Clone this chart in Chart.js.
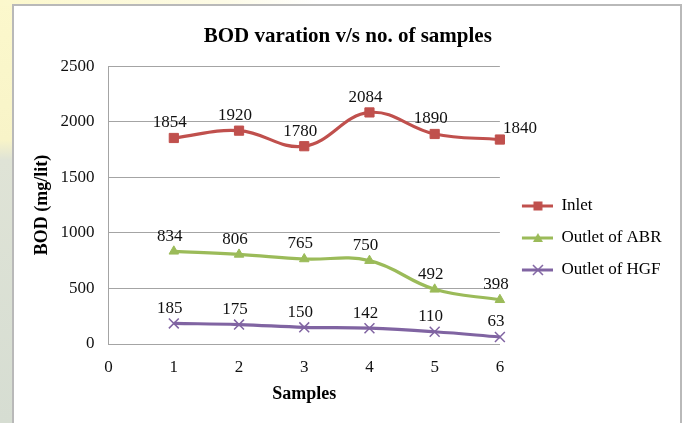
<!DOCTYPE html>
<html>
<head>
<meta charset="utf-8">
<script src="https://cdn.jsdelivr.net/npm/chart.js@4"></script>
<style>
  body { margin: 0; background: #fff; }
  #wrap { position: relative; width: 684px; height: 423px; overflow: hidden; background: #fff; }
  #side { position: absolute; left: 0; top: 0; width: 14px; height: 423px;
          background: linear-gradient(to bottom, #fcf8cc 0px, #f8f4c8 140px, #dfe3d6 160px, #d6ddd2 423px); }
  #topband { position: absolute; left: 0; top: 0; width: 320px; height: 6px;
             background: linear-gradient(to right, #fcf8cc, #fdfbe6 70%, #fff); }
  #box { position: absolute; left: 12px; top: 4px; width: 666px; height: 440px;
         border: 2px solid #b9b9b9; background: #fff; }
  canvas { position: absolute; left: 0; top: 0; }
</style>
</head>
<body>
<div id="wrap">
  <div id="side"></div>
  <div id="topband"></div>
  <div id="box"></div>
  <canvas id="Chart" width="684" height="423"></canvas>
</div>
<script>
// chart values
const samples = [1, 2, 3, 4, 5, 6];
const inlet = [1854, 1920, 1780, 2084, 1890, 1840];
const outletABR = [834, 806, 765, 750, 492, 398];
const outletHGF = [185, 175, 150, 142, 110, 63];
const seriesNames = ['Inlet', 'Outlet of ABR', 'Outlet of HGF'];

const serif = '"Liberation Serif", "Times New Roman", serif';
const colors = ['#C0504D', '#9BBB59', '#8064A2'];
const markers = ['rect', 'triangle', 'crossRot'];

Chart.defaults.font.family = serif;
Chart.defaults.color = '#111';

function toPoints(values) {
    return samples.map((s, i) => ({ x: s, y: values[i] }));
}

// small line + marker picture for the legend
function legendIcon(color, style) {
    const c = document.createElement('canvas');
    c.width = 38; c.height = 16;
    const g = c.getContext('2d');
    g.strokeStyle = color;
    g.fillStyle = color;
    g.lineWidth = 3;
    g.beginPath(); g.moveTo(7, 8); g.lineTo(38, 8); g.stroke();
    const cx = 23, cy = 8;
    if (style === 'rect') {
        g.fillRect(cx - 4.5, cy - 4.5, 9, 9);
    } else if (style === 'triangle') {
        g.beginPath(); g.moveTo(cx, cy - 5); g.lineTo(cx + 5, cy + 4); g.lineTo(cx - 5, cy + 4);
        g.closePath(); g.fill();
    } else {
        g.lineWidth = 1.5;
        g.beginPath();
        g.moveTo(cx - 5, cy - 5); g.lineTo(cx + 5, cy + 5);
        g.moveTo(cx + 5, cy - 5); g.lineTo(cx - 5, cy + 5);
        g.stroke();
    }
    return c;
}
const legendIcons = colors.map((c, i) => legendIcon(c, markers[i]));

let valueLabels = {
    id: 'valueLabels',
    afterDatasetsDraw(chart) {
        const ctx = chart.ctx;
        ctx.save();
        ctx.font = '17px ' + serif;
        ctx.fillStyle = '#111';
        ctx.textBaseline = 'middle';
        chart.data.datasets.forEach((ds, i) => {
            chart.getDatasetMeta(i).data.forEach((pt, j) => {
                const v = ds.data[j].y;
                if (i === 0 && j === ds.data.length - 1) {
                    ctx.textAlign = 'left';
                    ctx.fillText(v, pt.x + 3, pt.y - 11);
                } else {
                    ctx.textAlign = 'center';
                    ctx.fillText(v, pt.x - 4, pt.y - 15);
                }
            });
        });
        ctx.restore();
    }
};

let values = [inlet, outletABR, outletHGF];

let chartData = {
    datasets: values.map((v, i) => ({
        label: seriesNames[i],
        data: toPoints(v),
        borderColor: colors[i],
        backgroundColor: colors[i],
        borderWidth: 3.2,
        tension: 0.4,
        pointStyle: markers[i],
        pointRadius: i === 0 ? 6.5 : (i === 1 ? 5.5 : 7),
        pointBorderWidth: i === 2 ? 1.5 : 1,
        pointBackgroundColor: colors[i],
        pointBorderColor: colors[i],
        clip: false,
    })),
};

let gridColor = '#a4a4a4';

let chartdtl = {
    type: 'line',
    data: chartData,
    options: {
        responsive: false,
        animation: false,
        layout: { padding: { left: 24, top: 5, right: 12.5, bottom: 0 } },
        plugins: {
            title: {
                display: true,
                text: 'BOD varation v/s no. of samples',
                color: '#000',
                font: { size: 21, weight: 'bold' },
                padding: { top: 19, bottom: 17 },
            },
            legend: {
                position: 'right',
                align: 'center',
                maxWidth: 180,
                title: { display: true, text: ' ', font: { size: 10 }, padding: { top: 36, bottom: 0 } },
                labels: {
                    usePointStyle: true,
                    pointStyleWidth: 38,
                    padding: 15,
                    color: '#000',
                    font: { size: 17 },
                    generateLabels(chart) {
                        const items = Chart.defaults.plugins.legend.labels.generateLabels(chart);
                        items.forEach((it, i) => { it.pointStyle = legendIcons[i]; });
                        return items;
                    },
                },
            },
            tooltip: { enabled: false },
        },
        scales: {
            x: {
                type: 'linear',
                min: 0,
                max: 6,
                ticks: { stepSize: 1, padding: 13, font: { size: 17 } },
                grid: { display: false, drawTicks: false },
                border: { display: true, color: gridColor, width: 1 },
                title: {
                    display: true, text: 'Samples', color: '#000',
                    font: { size: 18, weight: 'bold' },
                    padding: { top: -7, bottom: 18 },
                },
            },
            y: {
                min: 0,
                max: 2500,
                ticks: { stepSize: 500, padding: 14, font: { size: 17 }, callback: v => String(v) },
                grid: { color: gridColor, drawTicks: false },
                border: { display: true, color: gridColor, width: 1 },
                title: {
                    display: true, text: 'BOD (mg/lit)', color: '#000',
                    font: { size: 18, weight: 'bold' },
                    padding: { top: 8, bottom: -7 },
                },
            },
        },
    },
    plugins: [valueLabels],
};

let graph = document.getElementById('Chart');
let presentdata = new Chart(graph, chartdtl);
</script>
</body>
</html>
